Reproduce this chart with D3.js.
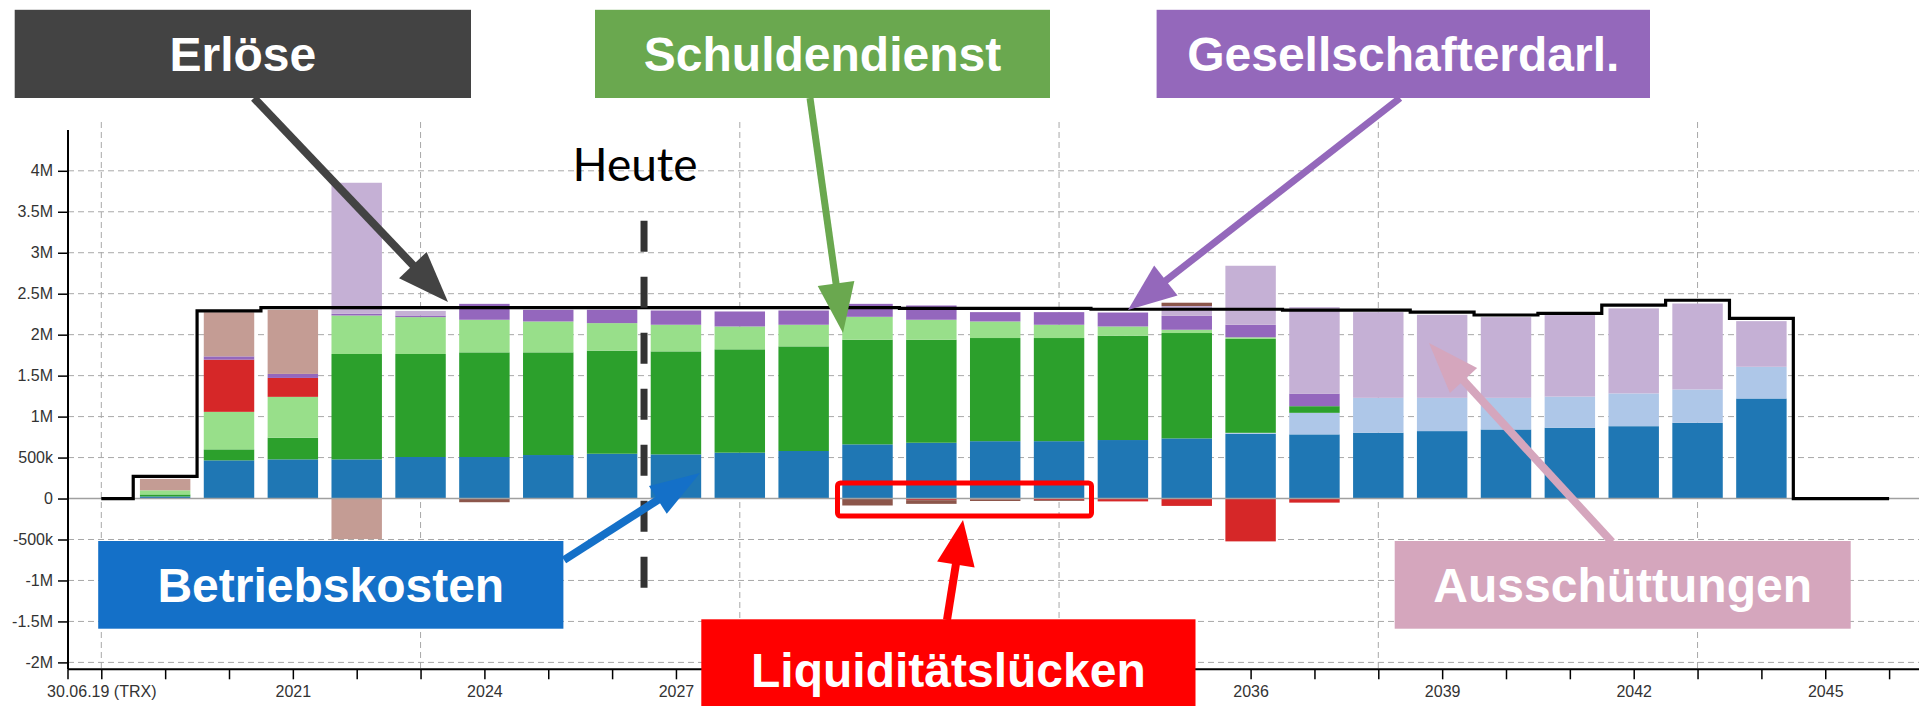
<!DOCTYPE html>
<html><head><meta charset="utf-8">
<script src="https://cdn.jsdelivr.net/npm/d3@7"></script>
<style>html,body{margin:0;padding:0;background:#fff;}svg{display:block;}</style>
</head><body>
<svg id="c" width="1919" height="706"></svg>
<script>
// ---------- DATA (values in millions) ----------
const years = [2019,2020,2021,2022,2023,2024,2025,2026,2027,2028,2029,2030,2031,2032,2033,2034,2035,2036,2037,2038,2039,2040,2041,2042,2043,2044];
const betriebskosten = [0.025,0.466,0.478,0.478,0.507,0.507,0.531,0.547,0.539,0.56,0.58,0.661,0.681,0.70,0.70,0.714,0.734,0.79,0.783,0.803,0.823,0.843,0.864,0.883,0.924,1.221];
const ruecklage     = [0,0,0,0,0,0,0,0,0,0,0,0,0,0,0,0,0,0.012,0.263,0.426,0.406,0.386,0.38,0.40,0.407,0.387];
const tilgung       = [0.025,0.134,0.264,1.286,1.257,1.277,1.253,1.258,1.257,1.261,1.277,1.277,1.257,1.259,1.259,1.273,1.286,1.146,0.081,0,0,0,0,0,0,0];
const zinsen        = [0.05,0.458,0.499,0.47,0.45,0.398,0.377,0.336,0.325,0.279,0.264,0.28,0.244,0.202,0.162,0.113,0.04,0.02,0,0,0,0,0,0,0,0];
const luecke        = [0,0.637,0.231,0,0,0,0,0,0,0,0,0,-0.02,-0.01,-0.02,-0.035,-0.09,-0.523,-0.05,0,0,0,0,0,0,0];
const gesDarlehen   = [0,0.04,0.049,0.02,0.02,0.194,0.142,0.162,0.174,0.183,0.174,0.158,0.174,0.114,0.154,0.17,0.17,0.153,0.154,0,0,0,0,0,0,0];
const ausschuettung = [0,0,0,1.60,0.056,0,0,0,0,0,0,0,0,0,0,0,0.12,0.72,1.055,1.046,1.013,0.985,0.995,1.038,1.049,0.557];
const sonstiges     = [0,0,0,0,0,-0.045,0,0,0,0,0,-0.085,-0.045,-0.02,-0.01,0,0.04,0,0,0,0,0,0,0,0,0];
const einlagen      = [0.14,0.539,0.782,-0.495,0,0,0,0,0,0,0,0,0,0,0,0,0,0,0,0,0,0,0,0,0,0];
// revenue step line (one point per axis year, incl. start and end)
const erloesYears = [2018,2019,2020,2021,2022,2023,2024,2025,2026,2027,2028,2029,2030,2031,2032,2033,2034,2035,2036,2037,2038,2039,2040,2041,2042,2043,2044,2045,2046];
const erloese     = [0,0.27,2.29,2.33,2.33,2.33,2.33,2.33,2.33,2.33,2.33,2.33,2.33,2.32,2.32,2.32,2.31,2.31,2.31,2.30,2.30,2.275,2.24,2.26,2.36,2.42,2.20,0,0];
// axis ticks
const yTicks = [-2,-1.5,-1,-0.5,0,0.5,1,1.5,2,2.5,3,3.5,4];
const yTickLabels = ["-2M","-1.5M","-1M","-500k","0","500k","1M","1.5M","2M","2.5M","3M","3.5M","4M"];
const xTickYears = d3.range(2018, 2047);
// visible year labels (2030 and 2033 are hidden behind the annotation box in the original)
const xLabelYears = [2018,2021,2024,2027,2036,2039,2042,2045];
const xLabels = ["30.06.19 (TRX)","2021","2024","2027","2036","2039","2042","2045"];
const xGridYears = [2018,2023,2028,2033,2038,2043];
const heuteYear = 2026.5;

const seriesDefs = [
  {key:"betriebskosten", values:betriebskosten, color:"#1f77b4"},
  {key:"ruecklage", values:ruecklage, color:"#aec7e8"},
  {key:"tilgung", values:tilgung, color:"#2ca02c"},
  {key:"zinsen", values:zinsen, color:"#98df8a"},
  {key:"luecke", values:luecke, color:"#d62728"},
  {key:"gesDarlehen", values:gesDarlehen, color:"#9467bd"},
  {key:"ausschuettung", values:ausschuettung, color:"#c5b0d5"},
  {key:"sonstiges", values:sonstiges, color:"#8c564b"},
  {key:"einlagen", values:einlagen, color:"#c49c94"}
];

// ---------- SCALES ----------
const svg = d3.select("#c");
const x = d3.scaleLinear().domain([2018, 2046]).range([101.3, 1889.1]);
const y = d3.scaleLinear().domain([-2, 4]).range([662.4, 170.8]);
const axisX = 68, axisY = 669.3, plotTop = 122, plotRight = 1919;
const step = x(2019) - x(2018);
const bw = step * 0.79;

// ---------- GRID ----------
const grid = svg.append("g");
grid.selectAll("line.h").data(yTicks.filter(d => d !== 0)).enter().append("line")
  .attr("x1", axisX).attr("x2", plotRight).attr("y1", d => y(d)).attr("y2", d => y(d))
  .attr("stroke", "#a8a8a8").attr("stroke-width", 1).attr("stroke-dasharray", "6,4");
grid.selectAll("line.v").data(xGridYears).enter().append("line")
  .attr("x1", d => x(d)).attr("x2", d => x(d)).attr("y1", plotTop).attr("y2", axisY)
  .attr("stroke", "#a8a8a8").attr("stroke-width", 1).attr("stroke-dasharray", "6,4");

// ---------- BARS ----------
const table = years.map((yr, i) => {
  const o = {year: yr};
  seriesDefs.forEach(s => o[s.key] = s.values[i]);
  return o;
});
const stack = d3.stack().keys(seriesDefs.map(s => s.key)).offset(d3.stackOffsetDiverging);
const stacked = stack(table);
const barG = svg.append("g");
stacked.forEach((layer, li) => {
  barG.append("g").attr("fill", seriesDefs[li].color)
    .selectAll("rect").data(layer.filter(d => d[1] !== d[0])).enter().append("rect")
    .attr("x", d => x(d.data.year) - bw / 2)
    .attr("width", bw)
    .attr("y", d => y(Math.max(d[0], d[1])))
    .attr("height", d => Math.abs(y(d[0]) - y(d[1])));
});

// zero line
svg.append("line").attr("x1", axisX).attr("x2", plotRight).attr("y1", y(0)).attr("y2", y(0))
  .attr("stroke", "#a0a0a0").attr("stroke-width", 1.5);

// ---------- REVENUE LINE ----------
const line = d3.line().x(d => x(d[0])).y(d => y(d[1])).curve(d3.curveStep);
svg.append("path").datum(erloesYears.map((yr, i) => [yr, erloese[i]]))
  .attr("d", line).attr("fill", "none").attr("stroke", "#000").attr("stroke-width", 3.2);

// ---------- AXES ----------
const yAxis = d3.axisLeft(y).tickValues(yTicks).tickFormat((d, i) => yTickLabels[i]).tickSize(10).tickPadding(5);
const gy = svg.append("g").attr("transform", `translate(${axisX},0)`).call(yAxis);
gy.select(".domain").remove();
gy.append("line").attr("x1", 0).attr("x2", 0).attr("y1", 130).attr("y2", axisY).attr("stroke", "#000").attr("stroke-width", 2);
gy.selectAll(".tick line").attr("stroke", "#000").attr("stroke-width", 1.5);
gy.selectAll(".tick text").attr("fill", "#333").style("font", "16px 'Liberation Sans', Arial, sans-serif");

const xAxis = d3.axisBottom(x).tickValues(xTickYears).tickFormat(d => {
  const k = xLabelYears.indexOf(d); return k >= 0 ? xLabels[k] : "";
}).tickSize(10).tickPadding(6);
const gx = svg.append("g").attr("transform", `translate(0,${axisY})`).call(xAxis);
gx.select(".domain").remove();
gx.append("line").attr("x1", axisX).attr("x2", plotRight).attr("y1", 0).attr("y2", 0).attr("stroke", "#000").attr("stroke-width", 2);
gx.selectAll(".tick line").attr("stroke", "#000").attr("stroke-width", 1.5);
gx.selectAll(".tick text").attr("fill", "#333").style("font", "16px 'Liberation Sans', Arial, sans-serif");
gx.append("line").attr("x1", axisX).attr("x2", axisX).attr("y1", 0).attr("y2", 10).attr("stroke", "#000").attr("stroke-width", 1.5);

// ---------- HEUTE ----------
svg.append("line").attr("x1", x(heuteYear)).attr("x2", x(heuteYear)).attr("y1", 220.7).attr("y2", 588)
  .attr("stroke", "#333").attr("stroke-width", 7).attr("stroke-dasharray", "31,25");
svg.append("text").attr("x", x(heuteYear) - 9).attr("y", 181).attr("text-anchor", "middle")
  .style("font", "46px Lato, 'Open Sans', sans-serif").attr("fill", "#000").text("Heute");

// ---------- ANNOTATIONS ----------
function arrow(x1, y1, x2, y2, color, w, hl, hw) {
  const dx = x2 - x1, dy = y2 - y1, L = Math.hypot(dx, dy);
  const ux = dx / L, uy = dy / L, px = -uy, py = ux;
  const bx = x2 - ux * hl, by = y2 - uy * hl;
  const g = svg.append("g");
  g.append("line").attr("x1", x1).attr("y1", y1).attr("x2", bx + ux * 2).attr("y2", by + uy * 2)
    .attr("stroke", color).attr("stroke-width", w);
  g.append("polygon").attr("points", [[x2, y2], [bx + px * hw / 2, by + py * hw / 2], [bx - px * hw / 2, by - py * hw / 2]].map(p => p.join(",")).join(" "))
    .attr("fill", color);
}
function box(x0, y0, x1, y1, fill, label) {
  svg.append("rect").attr("x", x0).attr("y", y0).attr("width", x1 - x0).attr("height", y1 - y0).attr("fill", fill);
  svg.append("text").attr("x", (x0 + x1) / 2).attr("y", (y0 + y1) / 2 + 17).attr("text-anchor", "middle")
    .style("font", "bold 48px 'Liberation Sans', Arial, sans-serif").attr("fill", "#fff").text(label);
}
arrow(254, 98, 448, 302, "#434343", 8, 51, 38);
arrow(810, 98, 843, 333, "#6aa84f", 7, 50, 37);
arrow(1400, 98, 1128, 310, "#9468bb", 7, 48, 38);
arrow(564, 560, 700, 473, "#1470c8", 8, 50, 33);
arrow(947, 620, 963, 520, "#ff0000", 8, 45, 38);
arrow(1612, 542, 1429, 343, "#d5a6bd", 8, 51, 37);

// red highlight rectangle
svg.append("rect").attr("x", 837.5).attr("y", 483).attr("width", 254).attr("height", 33).attr("rx", 3)
  .attr("fill", "none").attr("stroke", "#ff0000").attr("stroke-width", 5);

box(14.7, 9.8, 471, 98, "#434343", "Erlöse");
box(595, 9.8, 1050, 98, "#6aa84f", "Schuldendienst");
box(1156.6, 9.8, 1650, 98, "#9468bb", "Gesellschafterdarl.");
box(98.2, 541, 563.4, 628.7, "#1470c8", "Betriebskosten");
box(701.3, 619.3, 1195.5, 720, "#ff0000", "Liquiditätslücken");
box(1394.7, 541, 1850.7, 628.7, "#d5a6bd", "Ausschüttungen");
</script>
</body></html>
